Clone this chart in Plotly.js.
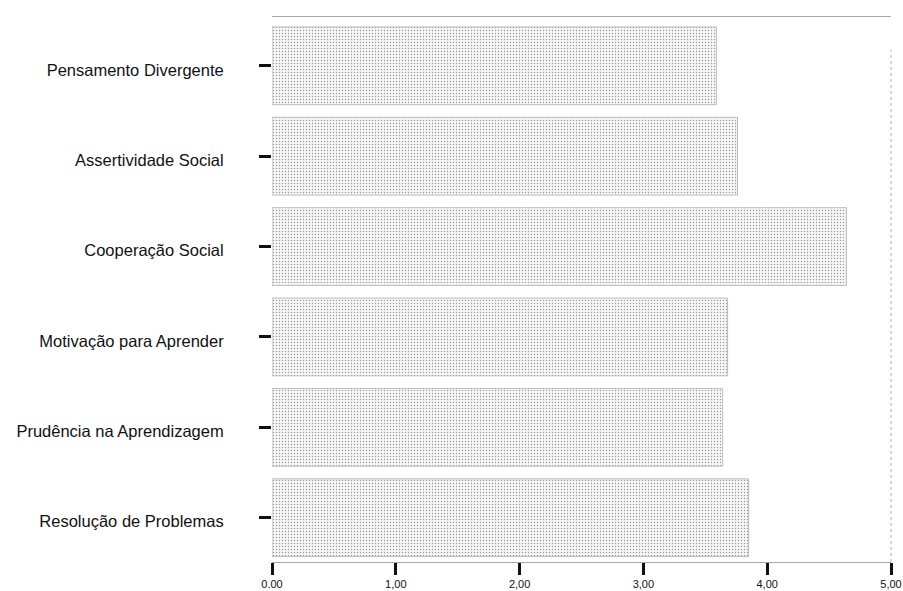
<!DOCTYPE html>
<html>
<head>
<meta charset="utf-8">
<script src="https://cdn.plot.ly/plotly-3.0.1.min.js"></script>
<style>html,body{margin:0;padding:0;background:#fff;}#chart{width:903px;height:591px;}</style>
</head>
<body>
<div id="chart"></div>
<script>
const categories = ["Pensamento Divergente", "Assertividade Social", "Cooperação Social", "Motivação para Aprender", "Prudência na Aprendizagem", "Resolução de Problemas"];
const means = [3.59, 3.76, 4.64, 3.68, 3.64, 3.85];
const tickVals = [0, 1, 2, 3, 4, 5];
const tickLabels = ["0.00", "1,00", "2,00", "3,00", "4,00", "5,00"];

const trace = {
  type: 'bar',
  orientation: 'h',
  y: categories,
  x: means,
  marker: {
    color: '#f4f4f4',
    line: {color: '#bdbdbd', width: 1},
    pattern: {shape: '.', fgcolor: '#9a9a9a', bgcolor: '#f7f7f7', size: 3, solidity: 0.18}
  },
  hoverinfo: 'x+y'
};

const layout = {
  width: 903, height: 591,
  margin: {l: 272, r: 12, t: 17, b: 29},
  paper_bgcolor: '#fff', plot_bgcolor: '#fff',
  font: {family: 'Liberation Sans, Arial, sans-serif', color: '#111'},
  bargap: 0.14,
  showlegend: false,
  xaxis: {
    range: [0, 5], tickvals: tickVals, ticktext: tickLabels,
    ticks: 'outside', ticklen: 12, tickwidth: 3, tickcolor: '#111',
    showgrid: false, zeroline: false,
    showline: true, linecolor: '#a8a8a8', linewidth: 1, mirror: true,
    tickfont: {size: 11}, automargin: false, fixedrange: true
  },
  yaxis: {
    range: [5.49, -0.54],
    ticks: 'outside', ticklen: 12, tickwidth: 3, tickcolor: '#111',
    showgrid: false, zeroline: false, showline: false,
    tickfont: {size: 16.5}, ticklabelstandoff: 32, ticklabelshift: -4,
    automargin: false, fixedrange: true
  },
  shapes: [{type: 'line', xref: 'paper', yref: 'paper', x0: 1, x1: 1, y0: 0, y1: 0.94,
            line: {color: '#b0b0b0', width: 1, dash: 'dot'}}]
};

Plotly.newPlot('chart', [trace], layout, {displayModeBar: false, staticPlot: true});
</script>
</body>
</html>
